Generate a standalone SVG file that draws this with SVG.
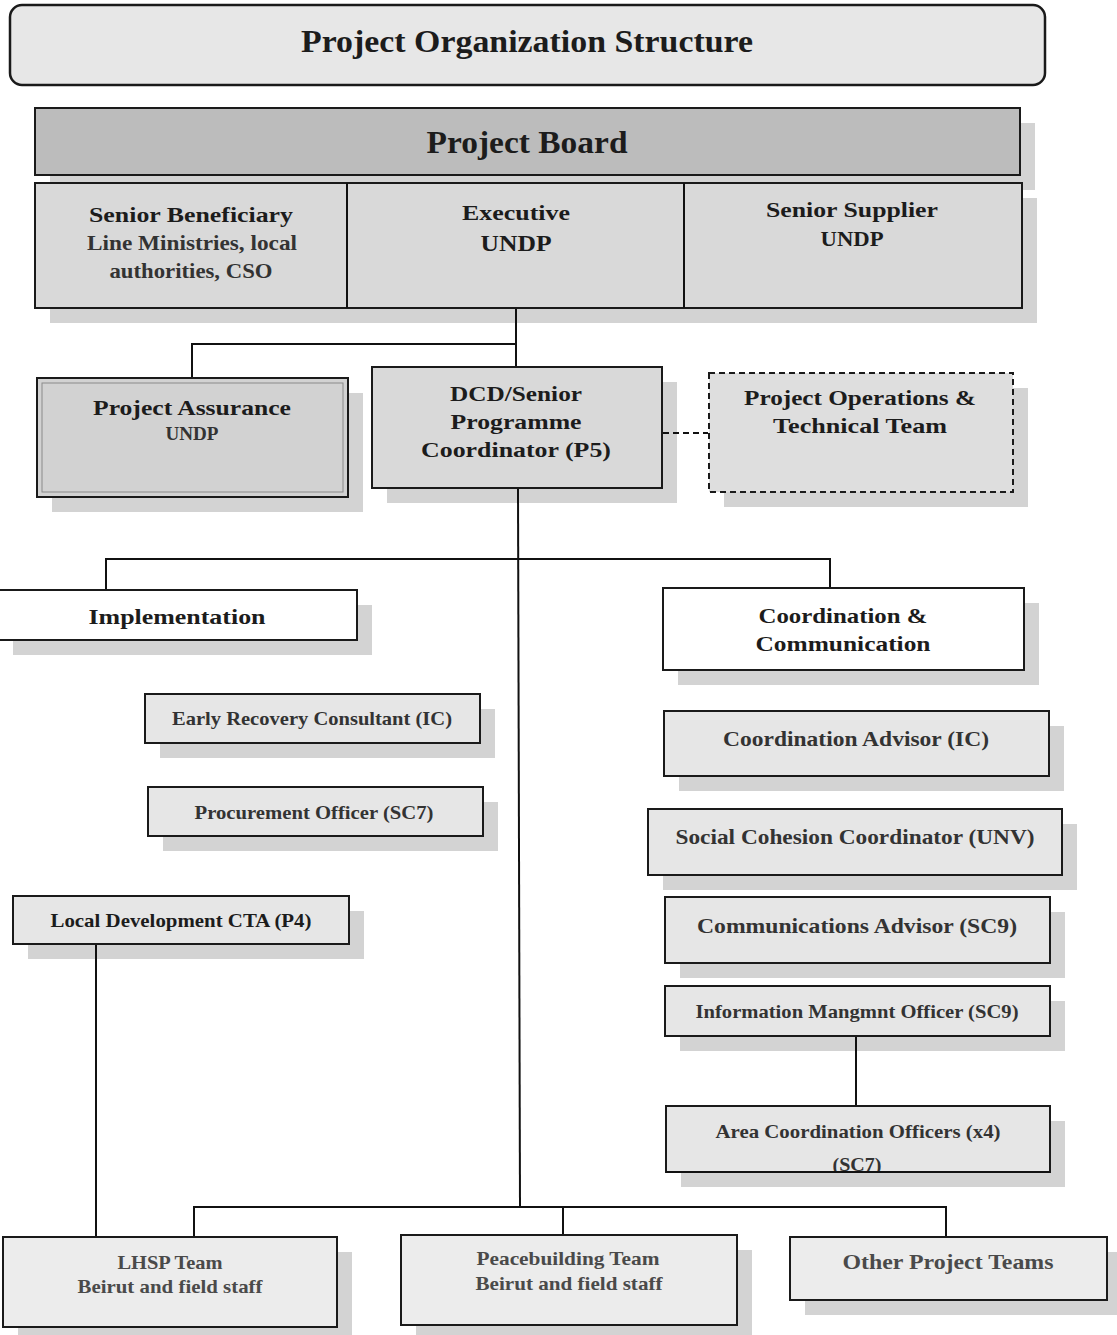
<svg xmlns="http://www.w3.org/2000/svg" width="1117" height="1335" viewBox="0 0 1117 1335">
<style>
.box{stroke:#1a1a1a;stroke-width:2}
.sh{fill:#d3d3d3}
.t{font-family:"Liberation Serif","DejaVu Serif",serif;font-weight:bold;fill:#1c1c1c;text-anchor:middle}
.g{fill:#333}
.lg{fill:#4a4a4a}
.ln{stroke:#111;stroke-width:2;fill:none}
</style>
<defs>
<clipPath id="clipArea"><rect x="666" y="1106" width="384" height="65"/></clipPath>
</defs>
<rect width="1117" height="1335" fill="#fff"/>

<g id="title">
<rect x="10" y="5" width="1035" height="80" rx="12" fill="#e7e7e7" stroke="#1a1a1a" stroke-width="2.5"/>
<text class="t" x="527" y="52" font-size="31" textLength="452" lengthAdjust="spacingAndGlyphs">Project Organization Structure</text>
</g>

<g id="project-board">
<rect class="sh" x="50" y="123" width="985" height="67"/>
<rect class="box" x="35" y="108" width="985" height="67" fill="#bcbcbc"/>
<text class="t" x="527" y="153" font-size="32" textLength="201" lengthAdjust="spacingAndGlyphs">Project Board</text>
</g>

<g id="board-members">
<rect class="sh" x="50" y="198" width="987" height="125"/>
<rect class="box" x="35" y="183" width="987" height="125" fill="#d9d9d9"/>
<line class="ln" x1="347" y1="183" x2="347" y2="308"/>
<line class="ln" x1="684" y1="183" x2="684" y2="308"/>
</g>

<g id="senior-beneficiary">
<text class="t" x="191" y="222" font-size="22" textLength="204" lengthAdjust="spacingAndGlyphs">Senior Beneficiary</text>
<text class="t g" x="192" y="250" font-size="21" textLength="210" lengthAdjust="spacingAndGlyphs">Line Ministries, local</text>
<text class="t g" x="191" y="278" font-size="21" textLength="163" lengthAdjust="spacingAndGlyphs">authorities, CSO</text>
</g>

<g id="executive">
<text class="t" x="516" y="220" font-size="22" textLength="108" lengthAdjust="spacingAndGlyphs">Executive</text>
<text class="t" x="516" y="251" font-size="24" textLength="71" lengthAdjust="spacingAndGlyphs">UNDP</text>
</g>

<g id="senior-supplier">
<text class="t" x="852" y="217" font-size="22" textLength="172" lengthAdjust="spacingAndGlyphs">Senior Supplier</text>
<text class="t" x="852" y="246" font-size="22" textLength="63" lengthAdjust="spacingAndGlyphs">UNDP</text>
</g>

<g id="project-assurance">
<rect class="sh" x="52" y="393" width="311" height="119"/>
<rect class="box" x="37" y="378" width="311" height="119" fill="#d2d2d2"/>
<rect x="42" y="383" width="301" height="109" fill="none" stroke="#8a8a8a" stroke-width="1"/>
<text class="t" x="192" y="415" font-size="22" textLength="198" lengthAdjust="spacingAndGlyphs">Project Assurance</text>
<text class="t g" x="192" y="440" font-size="18" textLength="53" lengthAdjust="spacingAndGlyphs">UNDP</text>
</g>

<g id="dcd">
<rect class="sh" x="387" y="382" width="290" height="121"/>
<rect class="box" x="372" y="367" width="290" height="121" fill="#d9d9d9"/>
<text class="t" x="516" y="401" font-size="22" textLength="132" lengthAdjust="spacingAndGlyphs">DCD/Senior</text>
<text class="t" x="516" y="429" font-size="22" textLength="131" lengthAdjust="spacingAndGlyphs">Programme</text>
<text class="t" x="516" y="457" font-size="22" textLength="190" lengthAdjust="spacingAndGlyphs">Coordinator (P5)</text>
</g>

<g id="project-operations">
<rect class="sh" x="724" y="388" width="304" height="119"/>
<rect x="709" y="373" width="304" height="119" fill="#dedede" stroke="#1a1a1a" stroke-width="2" stroke-dasharray="6,4"/>
<text class="t" x="860" y="405" font-size="22" textLength="232" lengthAdjust="spacingAndGlyphs">Project Operations &amp;</text>
<text class="t" x="860" y="433" font-size="22" textLength="174" lengthAdjust="spacingAndGlyphs">Technical Team</text>
</g>

<g id="implementation">
<rect class="sh" x="13" y="605" width="359" height="50"/>
<rect class="box" x="-2" y="590" width="359" height="50" fill="#fff"/>
<text class="t" x="177" y="624" font-size="22" textLength="177" lengthAdjust="spacingAndGlyphs">Implementation</text>
</g>

<g id="coordination-communication">
<rect class="sh" x="678" y="603" width="361" height="82"/>
<rect class="box" x="663" y="588" width="361" height="82" fill="#fff"/>
<text class="t" x="843" y="623" font-size="22" textLength="169" lengthAdjust="spacingAndGlyphs">Coordination &amp;</text>
<text class="t" x="843" y="651" font-size="22" textLength="175" lengthAdjust="spacingAndGlyphs">Communication</text>
</g>

<g id="early-recovery">
<rect class="sh" x="160" y="709" width="335" height="49"/>
<rect class="box" x="145" y="694" width="335" height="49" fill="#e6e6e6"/>
<text class="t g" x="312" y="725" font-size="19" textLength="280" lengthAdjust="spacingAndGlyphs">Early Recovery Consultant (IC)</text>
</g>

<g id="procurement">
<rect class="sh" x="163" y="802" width="335" height="49"/>
<rect class="box" x="148" y="787" width="335" height="49" fill="#e6e6e6"/>
<text class="t g" x="314" y="819" font-size="19" textLength="239" lengthAdjust="spacingAndGlyphs">Procurement Officer (SC7)</text>
</g>

<g id="local-development">
<rect class="sh" x="28" y="911" width="336" height="48"/>
<rect class="box" x="13" y="896" width="336" height="48" fill="#e6e6e6"/>
<text class="t" x="181" y="927" font-size="19" textLength="261" lengthAdjust="spacingAndGlyphs">Local Development CTA (P4)</text>
</g>

<g id="coordination-advisor">
<rect class="sh" x="679" y="726" width="385" height="65"/>
<rect class="box" x="664" y="711" width="385" height="65" fill="#e6e6e6"/>
<text class="t g" x="856" y="746" font-size="21" textLength="266" lengthAdjust="spacingAndGlyphs">Coordination Advisor  (IC)</text>
</g>

<g id="social-cohesion">
<rect class="sh" x="663" y="824" width="414" height="66"/>
<rect class="box" x="648" y="809" width="414" height="66" fill="#e6e6e6"/>
<text class="t g" x="855" y="844" font-size="22" textLength="359" lengthAdjust="spacingAndGlyphs">Social Cohesion Coordinator (UNV)</text>
</g>

<g id="communications-advisor">
<rect class="sh" x="680" y="912" width="385" height="66"/>
<rect class="box" x="665" y="897" width="385" height="66" fill="#e6e6e6"/>
<text class="t g" x="857" y="933" font-size="21" textLength="320" lengthAdjust="spacingAndGlyphs">Communications Advisor (SC9)</text>
</g>

<g id="information-officer">
<rect class="sh" x="680" y="1001" width="385" height="50"/>
<rect class="box" x="665" y="986" width="385" height="50" fill="#e6e6e6"/>
<text class="t g" x="857" y="1018" font-size="19" textLength="323" lengthAdjust="spacingAndGlyphs">Information Mangmnt Officer (SC9)</text>
</g>

<g id="area-coordination">
<rect class="sh" x="681" y="1121" width="384" height="66"/>
<rect class="box" x="666" y="1106" width="384" height="66" fill="#e6e6e6"/>
<g clip-path="url(#clipArea)">
<text class="t g" x="858" y="1138" font-size="19" textLength="285" lengthAdjust="spacingAndGlyphs">Area Coordination Officers (x4)</text>
<text class="t g" x="857" y="1171" font-size="19" textLength="49" lengthAdjust="spacingAndGlyphs">(SC7)</text>
</g>
<line class="ln" x1="666" y1="1172" x2="1050" y2="1172"/>
</g>

<g id="lhsp-team">
<rect class="sh" x="18" y="1252" width="334" height="83"/>
<rect class="box" x="3" y="1237" width="334" height="90" fill="#ececec"/>
<text class="t lg" x="170" y="1269" font-size="19" textLength="105" lengthAdjust="spacingAndGlyphs">LHSP Team</text>
<text class="t lg" x="170" y="1293" font-size="19" textLength="185" lengthAdjust="spacingAndGlyphs">Beirut and field staff</text>
</g>

<g id="peacebuilding-team">
<rect class="sh" x="416" y="1250" width="336" height="85"/>
<rect class="box" x="401" y="1235" width="336" height="90" fill="#ececec"/>
<text class="t lg" x="568" y="1265" font-size="19" textLength="183" lengthAdjust="spacingAndGlyphs">Peacebuilding Team</text>
<text class="t lg" x="569" y="1290" font-size="19" textLength="187" lengthAdjust="spacingAndGlyphs">Beirut and field staff</text>
</g>

<g id="other-teams">
<rect class="sh" x="805" y="1252" width="312" height="63"/>
<rect class="box" x="790" y="1237" width="317" height="63" fill="#ececec"/>
<text class="t lg" x="948" y="1269" font-size="21" textLength="211" lengthAdjust="spacingAndGlyphs">Other Project Teams</text>
</g>

<g id="connectors">
<line class="ln" x1="516" y1="309" x2="516" y2="366"/>
<polyline class="ln" points="516,344 192,344 192,377"/>
<line x1="663" y1="433" x2="708" y2="433" stroke="#111" stroke-width="2" stroke-dasharray="6,4"/>
<line class="ln" x1="518" y1="489" x2="520" y2="1207"/>
<polyline class="ln" points="106,589 106,559 830,559 830,587"/>
<line class="ln" x1="96" y1="945" x2="96" y2="1236"/>
<line class="ln" x1="856" y1="1037" x2="856" y2="1105"/>
<polyline class="ln" points="194,1236 194,1207 946,1207 946,1236"/>
<line class="ln" x1="563" y1="1207" x2="563" y2="1234"/>
</g>
</svg>
